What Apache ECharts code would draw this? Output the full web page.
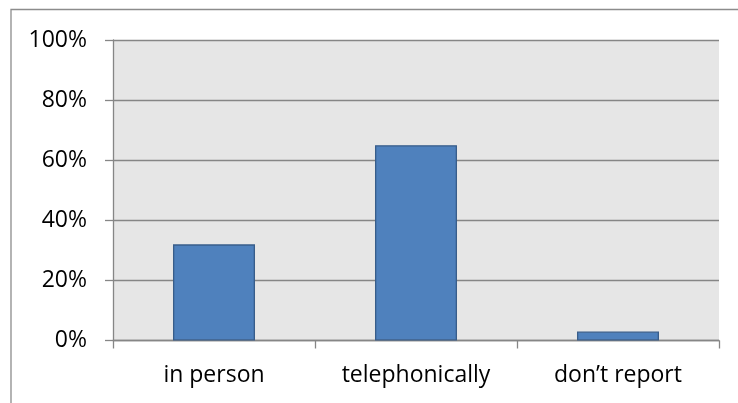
<!DOCTYPE html>
<html>
<head>
<meta charset="utf-8">
<script src="https://cdn.jsdelivr.net/npm/echarts@6/dist/echarts.min.js"></script>
<style>
  html, body { margin: 0; padding: 0; background: #ffffff; }
  #chart { width: 738px; height: 403px; }
</style>
</head>
<body>
<div id="chart"></div>
<script>
// How people report: share of respondents per channel
const categories = ['in person', 'telephonically', 'don\u2019t report'];
const shares = [32, 65, 3];
const yTicks = [0, 20, 40, 60, 80, 100];

const chart = echarts.init(document.getElementById('chart'), null, { renderer: 'canvas' });

const labelFont = { fontFamily: '"Open Sans", Lato, sans-serif', fontSize: 23, color: '#000000' };

chart.setOption({
  animation: false,
  backgroundColor: '#ffffff',
  graphic: [{
    type: 'rect',
    shape: { x: 11, y: 9.5, width: 760, height: 420 },
    style: { fill: 'none', stroke: '#8c8c8c', lineWidth: 1.3 },
    silent: true,
    z: -1
  }],
  grid: {
    left: 113, right: 19, top: 40, bottom: 62.5,
    show: true, backgroundColor: '#e6e6e6', borderWidth: 0
  },
  xAxis: {
    type: 'category',
    data: categories,
    axisLine: { show: true, lineStyle: { color: '#868686', width: 1.3 } },
    axisTick: { show: true, alignWithLabel: false, length: 8, lineStyle: { color: '#868686', width: 1.3 } },
    axisLabel: Object.assign({ margin: 23 }, labelFont),
    splitLine: { show: false }
  },
  yAxis: {
    type: 'value',
    min: yTicks[0],
    max: yTicks[yTicks.length - 1],
    interval: yTicks[1] - yTicks[0],
    axisLine: { show: true, lineStyle: { color: '#868686', width: 1.3 } },
    axisTick: { show: true, inside: false, length: 8, lineStyle: { color: '#868686', width: 1.3 } },
    axisLabel: Object.assign({ margin: 26, formatter: v => v + '%' }, labelFont),
    splitLine: { show: true, lineStyle: { color: '#868686', width: 1.3 } }
  },
  series: [{
    type: 'bar',
    data: shares,
    barWidth: '40.6%',
    itemStyle: { color: '#4f81bd', borderColor: '#385d8a', borderWidth: 1.3 }
  }]
});
</script>
</body>
</html>
